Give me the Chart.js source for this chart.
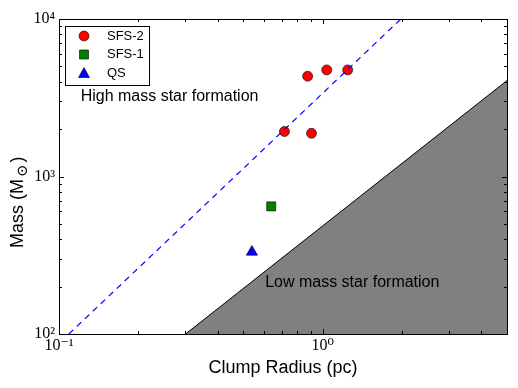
<!DOCTYPE html>
<html>
<head>
<meta charset="utf-8">
<script src="https://cdn.jsdelivr.net/npm/chart.js@4.4.0/dist/chart.umd.min.js"></script>
<style>
  html, body { margin: 0; padding: 0; background: #fff; }
</style>
</head>
<body>
<canvas id="massChart" width="518" height="388"></canvas>
<script>
// clump radius (pc) and mass (Msun) for each group
var sfs2Radius = [0.877, 1.036, 1.244, 0.716, 0.907];
var sfs2Mass = [4330, 4750, 4750, 1930, 1880];
var sfs1Radius = [0.638];
var sfs1Mass = [646];
var qsRadius = [0.539];
var qsMass = [332];

// dashed high-mass threshold
var highLineRadius = [0.109, 1.98];
var highLineMass = [100, 10000];

// low-mass boundary (shaded below)
var lowLineRadius = [0.302, 5];
var lowLineMass = [100, 4064];

// tick positions
var xTicks = [0.1, 0.2, 0.3, 0.4, 0.5, 0.6, 0.7, 0.8, 0.9, 1, 2, 3, 4, 5];
var yTicks = [100, 200, 300, 400, 500, 600, 700, 800, 900, 1000,
              2000, 3000, 4000, 5000, 6000, 7000, 8000, 9000, 10000];

var SANS = "'Liberation Sans', Arial, sans-serif";
var SERIF = "'Liberation Serif', 'DejaVu Serif', serif";

function toPoints(xs, ys) {
  return xs.map(function (x, i) { return { x: x, y: ys[i] }; });
}

function isPow10(v) {
  var l = Math.log10(v);
  return Math.abs(l - Math.round(l)) < 1e-6;
}

var supMap = { "-": "\u207B", "0": "\u2070", "1": "\u00B9", "2": "\u00B2",
               "3": "\u00B3", "4": "\u2074" };

function powLabel(v) {
  if (!isPow10(v)) return "";
  var e = String(Math.round(Math.log10(v)));
  return "10" + e.split("").map(function (c) { return supMap[c]; }).join("");
}

// frame, inward ticks, legend and text labels
var decorPlugin = {
  id: "decor",
  afterDatasetsDraw: function (chart) {
    var ctx = chart.ctx;
    var a = chart.chartArea;
    var xs = chart.scales.x, ys = chart.scales.y;
    ctx.save();
    ctx.strokeStyle = "#000";
    ctx.lineWidth = 1;

    ctx.beginPath();
    xs.ticks.forEach(function (t) {
      var px = Math.round(xs.getPixelForValue(t.value)) + 0.5;
      var len = isPow10(t.value) ? 5 : 3;
      ctx.moveTo(px, a.bottom); ctx.lineTo(px, a.bottom - len);
      ctx.moveTo(px, a.top); ctx.lineTo(px, a.top + len);
    });
    ys.ticks.forEach(function (t) {
      var py = Math.round(ys.getPixelForValue(t.value)) + 0.5;
      var len = isPow10(t.value) ? 5 : 3;
      ctx.moveTo(a.left, py); ctx.lineTo(a.left + len, py);
      ctx.moveTo(a.right, py); ctx.lineTo(a.right - len, py);
    });
    ctx.stroke();
    ctx.strokeRect(Math.round(a.left) + 0.5, Math.round(a.top) + 0.5,
                   Math.round(a.right - a.left), Math.round(a.bottom - a.top));

    // region labels
    ctx.fillStyle = "#000";
    ctx.font = "16px " + SANS;
    ctx.textBaseline = "middle";
    ctx.textAlign = "left";
    ctx.fillText("High mass star formation", xs.getPixelForValue(0.1208), ys.getPixelForValue(3200));
    ctx.fillText("Low mass star formation", xs.getPixelForValue(0.605), ys.getPixelForValue(212));

    // legend
    var lx = 65.5, ly = 26.5, lw = 84, lh = 59;
    ctx.fillStyle = "#fff";
    ctx.fillRect(lx, ly, lw, lh);
    ctx.strokeRect(lx, ly, lw, lh);
    var rows = [0, 1, 2];
    rows.forEach(function (i) {
      var ds = chart.data.datasets[i];
      var cy = 36 + i * 18.5;
      var cx = 84;
      ctx.fillStyle = ds.backgroundColor;
      ctx.strokeStyle = "#000";
      ctx.lineWidth = 0.6;
      ctx.beginPath();
      if (ds.pointStyle === "circle") {
        ctx.arc(cx, cy, 5, 0, Math.PI * 2);
      } else if (ds.pointStyle === "rect") {
        ctx.rect(cx - 4.5, cy - 4.5, 9, 9);
      } else {
        ctx.moveTo(cx, cy - 5.5);
        ctx.lineTo(cx - 5.5, cy + 4.5);
        ctx.lineTo(cx + 5.5, cy + 4.5);
        ctx.closePath();
      }
      ctx.fill();
      ctx.stroke();
      ctx.fillStyle = "#000";
      ctx.font = "13px " + SANS;
      ctx.textAlign = "left";
      ctx.textBaseline = "middle";
      ctx.fillText(ds.label, 107, cy);
    });

    // y-axis title with subscript sun symbol
    ctx.save();
    ctx.translate(23, 248);
    ctx.rotate(-Math.PI / 2);
    ctx.textAlign = "left";
    ctx.textBaseline = "alphabetic";
    ctx.fillStyle = "#000";
    ctx.font = "18px " + SANS;
    var t1 = "Mass (M";
    ctx.fillText(t1, 0, 0);
    var w1 = ctx.measureText(t1).width;
    ctx.font = "15px " + SERIF;
    ctx.fillText("\u2299", w1 + 2, 4);
    var w2 = ctx.measureText("\u2299").width;
    ctx.font = "18px " + SANS;
    ctx.fillText(")", w1 + w2 + 4, 0);
    ctx.restore();

    ctx.restore();
  }
};

var ctx = document.getElementById("massChart").getContext("2d");
window.massChart = new Chart(ctx, {
  type: "scatter",
  data: {
    datasets: [
      {
        label: "SFS-2",
        data: toPoints(sfs2Radius, sfs2Mass),
        pointStyle: "circle",
        backgroundColor: "#ff0000",
        borderColor: "#000",
        borderWidth: 0.6,
        pointRadius: 5,
        order: 2
      },
      {
        label: "SFS-1",
        data: toPoints(sfs1Radius, sfs1Mass),
        pointStyle: "rect",
        backgroundColor: "#008000",
        borderColor: "#000",
        borderWidth: 0.6,
        pointRadius: 6.4,
        order: 2
      },
      {
        label: "QS",
        data: toPoints(qsRadius, qsMass),
        pointStyle: "triangle",
        backgroundColor: "#0000ff",
        borderColor: "#000",
        borderWidth: 0.6,
        pointRadius: 6.5,
        order: 2
      },
      {
        type: "line",
        label: "threshold",
        data: toPoints(highLineRadius, highLineMass),
        borderColor: "#0000ff",
        borderWidth: 1.2,
        borderDash: [6, 5],
        pointRadius: 0,
        fill: false,
        order: 1
      },
      {
        type: "line",
        label: "low",
        data: toPoints(lowLineRadius, lowLineMass),
        borderColor: "#000",
        borderWidth: 1,
        backgroundColor: "#808080",
        pointRadius: 0,
        fill: "start",
        order: 3
      }
    ]
  },
  options: {
    responsive: false,
    animation: false,
    layout: { padding: { left: 0, right: 11, top: 19, bottom: 5 } },
    plugins: {
      legend: { display: false },
      tooltip: { enabled: false }
    },
    scales: {
      x: {
        type: "logarithmic",
        min: 0.1,
        max: 5,
        afterBuildTicks: function (s) {
          s.ticks = xTicks.map(function (v) { return { value: v }; });
        },
        afterFit: function (s) { s.height = 49; },
        grid: { display: false, drawTicks: false },
        border: { display: false },
        ticks: {
          autoSkip: false,
          maxRotation: 0,
          padding: 2,
          color: "#000",
          font: { family: SERIF, size: 16 },
          callback: function (v) { return powLabel(v); }
        },
        title: {
          display: true,
          text: "Clump Radius (pc)",
          color: "#000",
          font: { family: SANS, size: 18 }
        }
      },
      y: {
        type: "logarithmic",
        min: 100,
        max: 10000,
        afterBuildTicks: function (s) {
          s.ticks = yTicks.map(function (v) { return { value: v }; });
        },
        afterFit: function (s) { s.width = 59; },
        grid: { display: false, drawTicks: false },
        border: { display: false },
        ticks: {
          autoSkip: false,
          padding: 4,
          color: "#000",
          font: { family: SERIF, size: 16 },
          callback: function (v) { return powLabel(v); }
        }
      }
    }
  },
  plugins: [decorPlugin]
});
</script>
</body>
</html>
